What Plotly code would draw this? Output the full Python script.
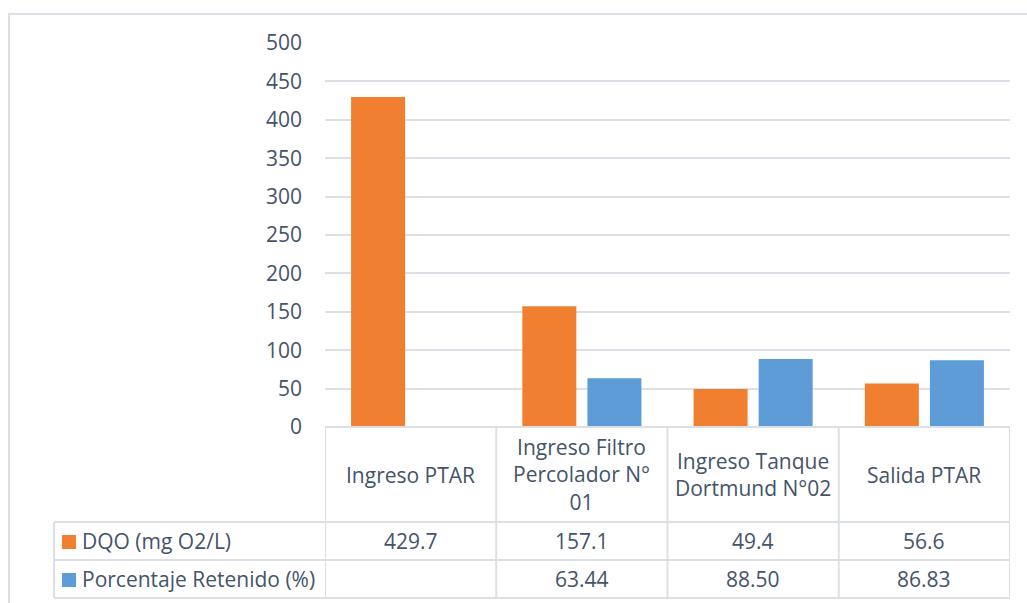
import plotly.graph_objects as go

# Sampling points along the treatment plant and measured values
categories = ["Ingreso PTAR", "Ingreso Filtro Percolador N° 01",
              "Ingreso Tanque Dortmund N°02", "Salida PTAR"]
header_labels = ["Ingreso PTAR", "Ingreso Filtro<br>Percolador N°<br>01",
                 "Ingreso Tanque<br>Dortmund N°02", "Salida PTAR"]
dqo = [429.7, 157.1, 49.4, 56.6]
retenido = [None, 63.44, 88.50, 86.83]
series_names = ["DQO (mg O2/L)", "Porcentaje Retenido (%)"]
y_ticks = [0, 50, 100, 150, 200, 250, 300, 350, 400, 450, 500]

W, H = 1027, 603
ORANGE = "#F07F2F"
BLUE = "#5D9CD7"
TEXT = "#44546A"
LINE = "#DCE0E6"
FONT = "Open Sans"
FS = 21


def px(xp):
    return xp / W


def py(yp):
    return 1 - yp / H


plot_left, plot_right = 325, 1010
plot_top, plot_bottom = 43, 427
row1, row2, row3 = 522, 560, 598
legend_left = 54

fig = go.Figure()
fig.add_trace(go.Bar(x=categories, y=dqo, name=series_names[0],
                     marker=dict(color=ORANGE, line=dict(width=0))))
fig.add_trace(go.Bar(x=categories, y=retenido, name=series_names[1],
                     marker=dict(color=BLUE, line=dict(width=0))))

shapes = []
# outer chart border
shapes.append(dict(type="rect", xref="paper", yref="paper",
                   x0=px(9), x1=px(1040), y0=py(640), y1=py(14),
                   line=dict(color=LINE, width=2), layer="below"))
# data table: vertical column separators at category boundaries
for i in range(len(categories) + 1):
    shapes.append(dict(type="line", xref="x", yref="paper",
                       x0=i - 0.5, x1=i - 0.5, y0=py(row3), y1=py(plot_bottom),
                       line=dict(color=LINE, width=2)))
# horizontal row separators
for yy in (row1, row2, row3):
    shapes.append(dict(type="line", xref="paper", yref="paper",
                       x0=px(legend_left), x1=px(plot_right), y0=py(yy), y1=py(yy),
                       line=dict(color=LINE, width=2)))
shapes.append(dict(type="line", xref="paper", yref="paper",
                   x0=px(plot_left), x1=px(plot_right), y0=py(plot_bottom), y1=py(plot_bottom),
                   line=dict(color=LINE, width=2)))
shapes.append(dict(type="line", xref="paper", yref="paper",
                   x0=px(legend_left), x1=px(legend_left), y0=py(row3), y1=py(row1),
                   line=dict(color=LINE, width=2)))

annotations = []
# category header cells
for i, lab in enumerate(header_labels):
    annotations.append(dict(x=i, xref="x", y=py((plot_bottom + row1) / 2), yref="paper",
                            text=lab, showarrow=False, xanchor="center", yanchor="middle",
                            font=dict(family=FONT, size=FS, color=TEXT), align="center"))

# value rows with legend keys
rows = [(dqo, series_names[0], ORANGE, "{:.1f}", (row1 + row2) / 2),
        (retenido, series_names[1], BLUE, "{:.2f}", (row2 + row3) / 2)]
for values, name, color, fmt, yc in rows:
    shapes.append(dict(type="rect", xref="paper", yref="paper",
                       x0=px(62), x1=px(76), y0=py(yc + 8), y1=py(yc - 6),
                       fillcolor=color, line=dict(width=0)))
    annotations.append(dict(x=px(80), xref="paper", y=py(yc), yref="paper",
                            text=name, showarrow=False, xanchor="left", yanchor="middle",
                            font=dict(family=FONT, size=FS, color=TEXT)))
    for i, v in enumerate(values):
        if v is None:
            continue
        annotations.append(dict(x=i, xref="x", y=py(yc), yref="paper",
                                text=fmt.format(v), showarrow=False,
                                xanchor="center", yanchor="middle",
                                font=dict(family=FONT, size=FS, color=TEXT)))

fig.update_layout(
    width=W, height=H,
    margin=dict(l=0, r=0, t=0, b=0, pad=0, autoexpand=False),
    paper_bgcolor="white", plot_bgcolor="white",
    barmode="group", bargap=0.24, bargroupgap=0.17,
    showlegend=False,
    font=dict(family=FONT, size=FS, color=TEXT),
    xaxis=dict(domain=[px(plot_left), px(plot_right)], type="category",
               range=[-0.5, 3.5], showticklabels=False, showgrid=False,
               showline=False, zeroline=False, ticks="", automargin=False),
    yaxis=dict(domain=[py(plot_bottom), py(plot_top)], range=[0, 500],
               tickvals=y_ticks, showgrid=True, gridcolor=LINE, gridwidth=2,
               zeroline=False, showline=False, ticks="", automargin=False,
               ticklabelstandoff=22,
               tickfont=dict(family=FONT, size=FS, color=TEXT)),
    shapes=shapes,
    annotations=annotations,
)

fig.write_html("out.html")
